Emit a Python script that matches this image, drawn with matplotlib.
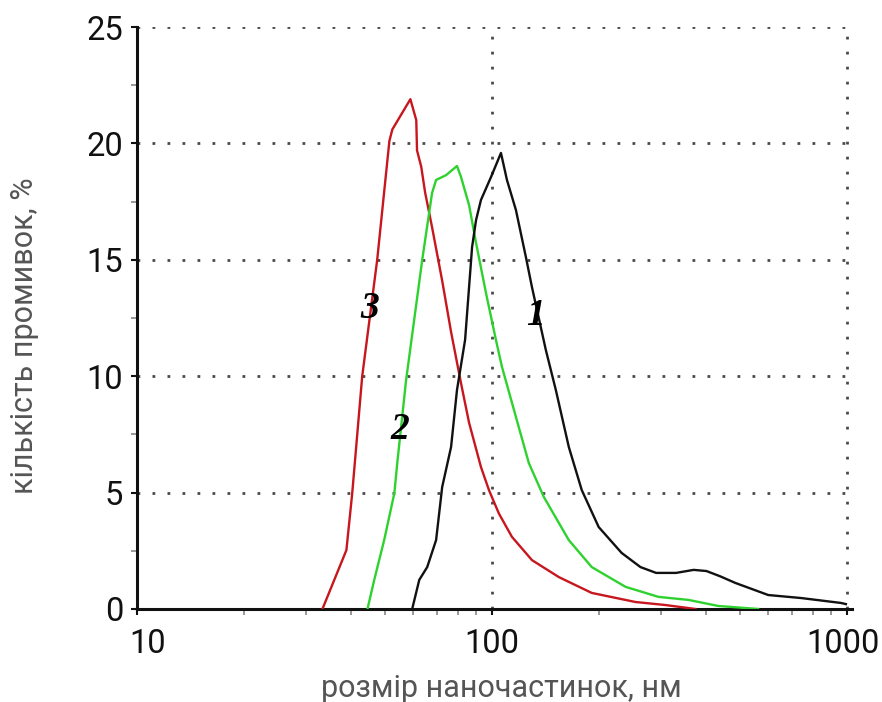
import matplotlib
matplotlib.use("Agg")
import matplotlib.pyplot as plt
import matplotlib.ticker as mticker
import matplotlib.transforms as mtransforms

# sample 1 (black)
size_1 = [59.6, 62.4, 65.7, 69.6, 72.4, 76.7, 79.7, 84.0, 87.9, 90.2, 93.1,
          99.4, 106.0, 110.2, 116.8, 124.6, 129.6, 141.8, 151.3, 164.6, 179.0,
          199.8, 231.8, 262.0, 290.0, 330.0, 370.0, 402.0, 440.0, 484.6, 600.0,
          743.0, 961.0, 993.0]
count_1 = [0.0, 1.25, 1.8, 2.96, 5.24, 6.96, 9.41, 11.56, 15.55, 16.71, 17.57,
           18.56, 19.59, 18.43, 17.14, 15.12, 13.83, 11.13, 9.41, 6.96, 5.11,
           3.52, 2.41, 1.8, 1.55, 1.55, 1.68, 1.63, 1.4, 1.12, 0.6,
           0.47, 0.26, 0.21]

# sample 2 (green)
size_2 = [44.6, 46.6, 49.7, 53.1, 54.1, 57.3, 63.6, 67.8, 69.6, 74.3, 79.7,
          81.8, 86.2, 90.2, 96.2, 102.6, 106.7, 116.8, 127.0, 140.0, 164.6,
          191.0, 237.9, 294.5, 357.6, 434.0, 562.0]
count_2 = [0.0, 1.25, 2.96, 4.98, 6.27, 9.84, 14.99, 17.87, 18.43, 18.64, 19.03,
           18.56, 17.35, 15.72, 13.57, 11.56, 10.4, 8.25, 6.27, 4.81, 2.96,
           1.8, 0.95, 0.52, 0.39, 0.13, 0.0]

# sample 3 (red)
size_3 = [33.3, 38.9, 40.4, 43.1, 47.5, 51.4, 52.4, 58.9, 61.2, 61.5, 63.2,
          64.8, 67.8, 72.4, 76.7, 81.8, 86.2, 93.1, 98.1, 104.6, 113.8, 129.6,
          154.3, 191.0, 253.6, 308.0, 374.0]
count_3 = [0.0, 2.53, 4.98, 10.0, 15.0, 20.1, 20.6, 21.9, 21.0, 19.7, 19.0,
           17.9, 16.4, 14.1, 11.9, 9.7, 8.0, 6.1, 5.1, 4.1, 3.1, 2.1,
           1.37, 0.69, 0.3, 0.17, 0.0]

curve_labels = ["1", "2", "3"]
label_x = [133.0, 54.9, 45.2]
label_y = [12.6, 7.7, 12.9]

x_ticks = [10, 100, 1000]
x_tick_labels = ["10", "100", "1000"]
y_ticks = [0, 5, 10, 15, 20, 25]


def main():
    fig = plt.figure(figsize=(8.82, 7.02), dpi=100)
    ax = fig.add_axes([0.1553, 0.1325, 0.811, 0.829])

    ax.plot(size_3, count_3, color="#c8161e", lw=1.7, zorder=3)
    ax.plot(size_2, count_2, color="#2ed22e", lw=1.7, zorder=3)
    ax.plot(size_1, count_1, color="#111111", lw=1.7, zorder=4)

    for txt, xp, yp in zip(curve_labels, label_x, label_y):
        ax.text(xp, yp, txt, fontsize=27, fontstyle="italic",
                fontweight="bold", family="Liberation Serif",
                ha="center", va="center", color="black", zorder=5)

    ax.set_xscale("log")
    ax.set_xlim(10, 1035)
    ax.set_ylim(0, 25)

    ax.xaxis.set_major_locator(mticker.FixedLocator(x_ticks))
    ax.xaxis.set_major_formatter(mticker.FixedFormatter(x_tick_labels))
    ax.xaxis.set_minor_locator(mticker.LogLocator(base=10, subs=range(2, 10)))
    ax.xaxis.set_minor_formatter(mticker.NullFormatter())
    ax.yaxis.set_major_locator(mticker.FixedLocator(y_ticks))
    ax.yaxis.set_minor_locator(mticker.MultipleLocator(2.5))

    ax.grid(True, which="major", color="#4a4a4a", lw=2.0,
            linestyle=(0, (1, 4.4)))
    ax.set_axisbelow(True)

    for side in ["top", "right"]:
        ax.spines[side].set_visible(False)
    for side in ["left", "bottom"]:
        ax.spines[side].set_linewidth(2.2)
        ax.spines[side].set_color("#111111")

    ax.tick_params(axis="both", which="major", direction="out", length=4,
                   width=1.5, labelsize=23.5, colors="#111111")
    ax.tick_params(axis="x", which="major", pad=10)
    ax.tick_params(axis="y", which="major", pad=6)
    ax.tick_params(axis="both", which="minor", direction="out", length=4,
                   width=1.2, colors="#888888")
    for lab in ax.get_xticklabels() + ax.get_yticklabels():
        lab.set_family("Roboto")

    # first and last x labels sit slightly inwards, as in the original
    shifts = [11, 0, -4]
    for tick, dx in zip(ax.xaxis.get_major_ticks(), shifts):
        off = mtransforms.ScaledTranslation(dx / 100, 0, fig.dpi_scale_trans)
        tick.label1.set_transform(tick.label1.get_transform() + off)

    ax.set_xlabel("розмір наночастинок, нм", fontsize=22, color="#555555",
                  family="Roboto", va="baseline")
    ax.xaxis.set_label_coords(0.509, -0.151)
    ax.set_ylabel("кількість промивок, %", fontsize=22, color="#555555",
                  family="Roboto", va="center")
    ax.yaxis.set_label_coords(-0.157, 0.469)

    fig.savefig("out.png", dpi=100)
    plt.close(fig)


if __name__ == "__main__":
    main()
